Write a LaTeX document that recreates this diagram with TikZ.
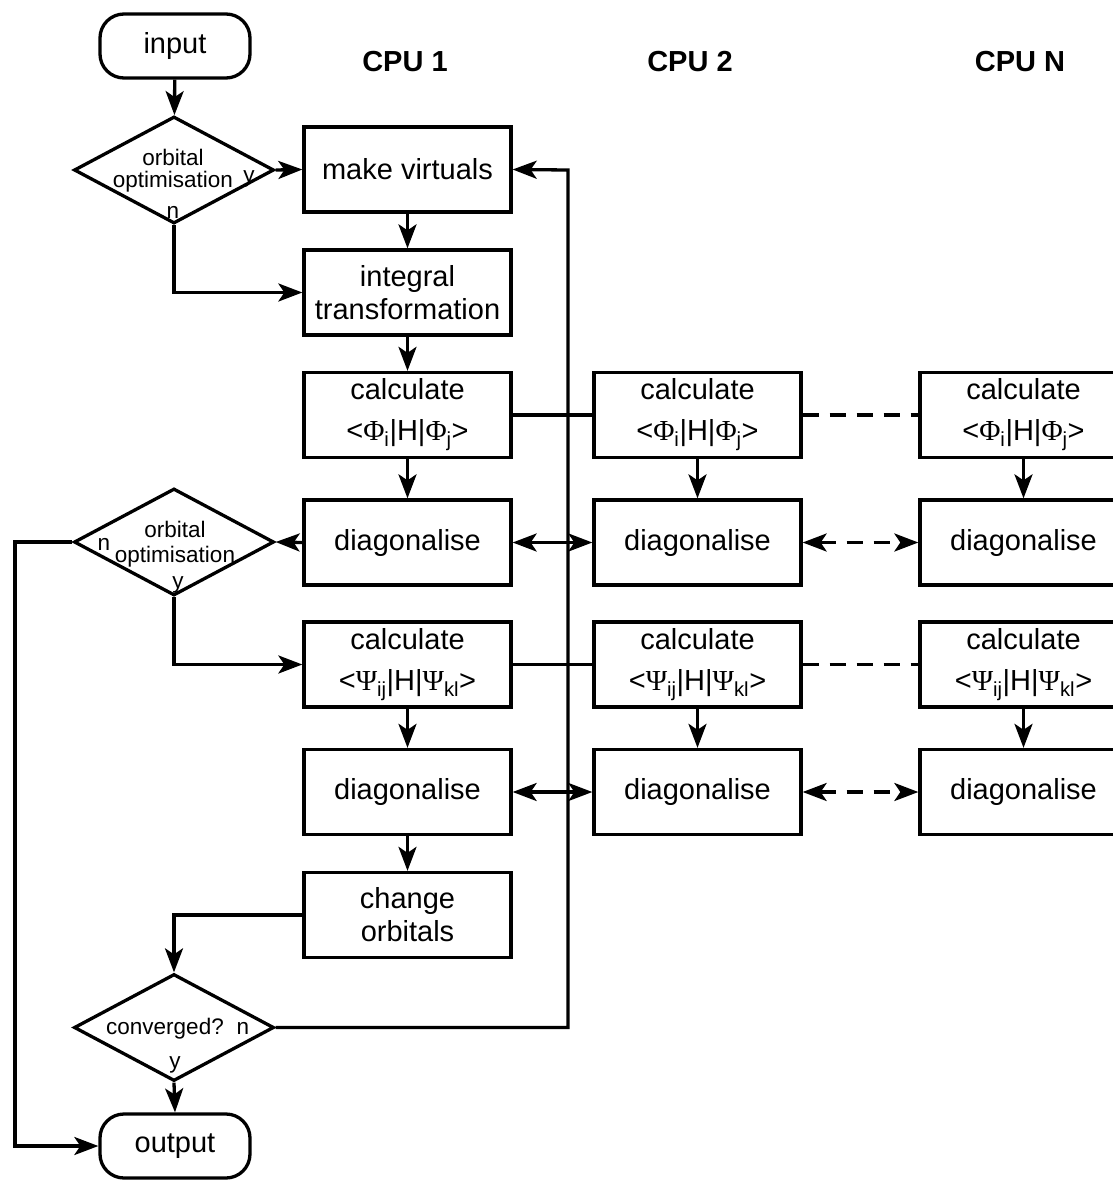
\documentclass[tikz,border=0pt]{standalone}
\usepackage{fontspec}
\setmainfont{Liberation Sans}
\newfontfamily\greekf{Liberation Serif}
\usetikzlibrary{arrows.meta,shapes.geometric}

\newcommand\PhiS{{\greekf Φ}}
\newcommand\PsiS{{\greekf Ψ}}
\newcommand\phimat{<\PhiS\textsubscript{i}|H|\PhiS\textsubscript{j}>}
\newcommand\psimat{<\PsiS\textsubscript{ij}|H|\PsiS\textsubscript{kl}>}

\tikzset{tip/.tip={Stealth[length=24pt 0 0,width=18pt 0,inset=6pt 0]}}

\begin{document}
\begin{tikzpicture}[x=1pt,y=-1pt,
  line width=3.3pt,
  proc/.style={draw, rectangle, minimum width=207pt, minimum height=85pt,
    inner sep=0pt, align=center, font=\fontsize{29}{33}\selectfont},
  term/.style={draw, rectangle, rounded corners=24pt, minimum width=150pt,
    minimum height=64pt, font=\fontsize{29}{33}\selectfont},
  decide/.style={draw, diamond, minimum width=200pt, minimum height=107pt,
    inner sep=0pt},
  dtext/.style={anchor=base, inner sep=0pt, font=\fontsize{22.5}{24}\selectfont},
  head/.style={font=\fontsize{29}{33}\selectfont\bfseries},
  arr/.style={-tip},
  darr/.style={tip-tip},
  dashlink/.style={dash pattern=on 16pt off 11pt},
]
\useasboundingbox (0,0) rectangle (1113,1180);
\clip (0,0) rectangle (1113,1180);

% terminals
\node[term] (in)  at (175,46)   {input};
\node[term] (out) at (175,1146) {output};

% column headings
\node[head] (h1) at (405,62)  {CPU 1};
\node[head] (h2) at (690,62)  {CPU 2};
\node[head] (h3) at (1020,62) {CPU N};

% CPU 1 column
\node[proc] (mv) at (407.5,169.5) {make virtuals};
\node[proc] (it) at (407.5,292.5) {integral\\transformation};
\node[proc] (ca1) at (407.5,415) {calculate\\[8pt]\phimat};
\node[proc] (da1) at (407.5,542.5) {diagonalise};
\node[proc] (cb1) at (407.5,664.5) {calculate\\[8pt]\psimat};
\node[proc] (db1) at (407.5,792) {diagonalise};
\node[proc] (ch) at (407.5,915) {change\\orbitals};

% CPU 2 column
\node[proc] (ca2) at (697.5,415) {calculate\\[8pt]\phimat};
\node[proc] (da2) at (697.5,542.5) {diagonalise};
\node[proc] (cb2) at (697.5,664.5) {calculate\\[8pt]\psimat};
\node[proc] (db2) at (697.5,792) {diagonalise};

% CPU N column
\node[proc] (ca3) at (1023.5,415) {calculate\\[8pt]\phimat};
\node[proc] (da3) at (1023.5,542.5) {diagonalise};
\node[proc] (cb3) at (1023.5,664.5) {calculate\\[8pt]\psimat};
\node[proc] (db3) at (1023.5,792) {diagonalise};

% decisions
\node[decide] (qa) at (174,170) {};
\node[dtext] (qa1) at (173,165) {orbital};
\node[dtext] (qa2) at (173,187) {optimisation};
\node[dtext] (qay) at (249,182) {y};
\node[dtext] (qan) at (173,218) {n};

\node[decide] (qb) at (174,542) {};
\node[dtext] (qb1) at (175,537) {orbital};
\node[dtext] (qb2) at (175,562) {optimisation};
\node[dtext] (qbn) at (104,550) {n};
\node[dtext] (qby) at (178,588) {y};

\node[decide] (qc) at (174,1027.5) {};
\node[dtext] (qc1) at (165,1034) {converged?};
\node[dtext] (qcn) at (243,1034) {n};
\node[dtext] (qcy) at (175,1068) {y};

% routing points
\coordinate (lft) at (15,542);
\coordinate (rgt) at (568,170);

% main flow
\draw[arr] (in) -- (qa);
\draw[arr] (qa.east) -- (mv.west);
\draw[arr] (qa.south) |- (it.west);
\draw[arr] (mv) -- (it);
\draw[arr] (it) -- (ca1);
\draw[arr] (ca1) -- (da1);
\draw[arr] (da1.west) -- (qb.east);
\draw[arr] (qb.west) -- (lft) |- (out.west);
\draw[arr] (qb.south) |- (cb1.west);
\draw[arr] (cb1) -- (db1);
\draw[arr] (db1) -- (ch);
\draw[arr] (ch.west) -| (qc.north);
\draw[arr] (qc.east) -| (rgt) -- (mv.east);
\draw[arr] (qc.south) -- (out.north);

% parallel columns
\draw[arr] (ca2) -- (da2);
\draw[arr] (cb2) -- (db2);
\draw[arr] (ca3) -- (da3);
\draw[arr] (cb3) -- (db3);
\draw (ca1.east) -- (ca2.west);
\draw (cb1.east) -- (cb2.west);
\draw[dashlink] (ca2.east) -- (ca3.west);
\draw[dashlink] (cb2.east) -- (cb3.west);
\draw[darr] (da1.east) -- (da2.west);
\draw[darr] (db1.east) -- (db2.west);
\draw[darr, dashlink] (da2.east) -- (da3.west);
\draw[darr, dashlink] (db2.east) -- (db3.west);
\end{tikzpicture}
\end{document}
